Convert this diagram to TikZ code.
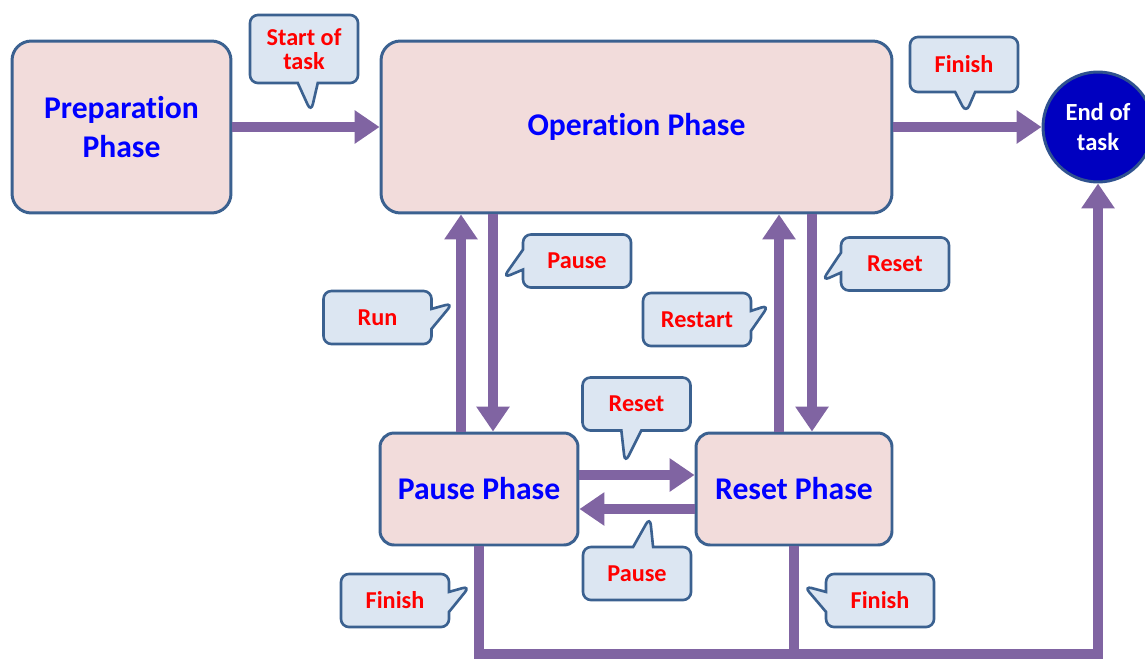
\documentclass[tikz,border=0pt]{standalone}
\usepackage{fontspec}
\setmainfont{Carlito}[Ligatures=NoCommon]
\usetikzlibrary{arrows.meta,shapes.callouts}

\definecolor{phasefill}{HTML}{F2DCDB}
\definecolor{phaseline}{HTML}{3B6190}
\definecolor{notefill}{HTML}{DCE6F2}
\definecolor{flowcol}{HTML}{8064A2}
\definecolor{endfill}{HTML}{0000C0}
\definecolor{endline}{HTML}{2F528F}

\tikzset{
  phase/.style={draw=phaseline, fill=phasefill, line width=1.7pt,
    rounded corners=11pt, text=blue, align=center,
    font=\bfseries\fontsize{18}{22}\selectfont},
  note/.style={rectangle callout, draw=phaseline, fill=notefill,
    line width=1.5pt, rounded corners=4.5pt, text=red, align=center,
    font=\bfseries\fontsize{13.8}{14}\selectfont,
    minimum width=2.16cm, minimum height=1.06cm, inner sep=2pt,
    callout pointer width=0.4cm},
  flow/.style={draw=flowcol, line width=5.7pt,
    -{Triangle[length=0.5cm,width=0.64cm]}},
  flowline/.style={draw=flowcol, line width=5.7pt}
}

\begin{document}
\begin{tikzpicture}[x=0.02cm,y=-0.02cm]
\useasboundingbox (0,0) rectangle (1145,659);

% Phases
\node[phase, minimum width=4.38cm, minimum height=3.44cm] (prep) at (121.5,127) {Preparation\\Phase};
\node[phase, minimum width=10.22cm, minimum height=3.44cm] (op) at (636.5,127) {Operation Phase};
\node[phase, rounded corners=8pt, minimum width=3.96cm, minimum height=2.24cm] (pause) at (479,489) {Pause Phase};
\node[phase, rounded corners=8pt, minimum width=3.92cm, minimum height=2.24cm] (reset) at (794,489) {Reset Phase};

% End of task
\node[circle, draw=endline, fill=endfill, line width=1.7pt, minimum size=2.2cm,
  inner sep=0pt, text=white, align=center,
  font=\bfseries\fontsize{14}{17}\selectfont] (taskend) at (1098,127) {End of\\task};

\coordinate (bottom) at (0,654);

% Arrows
\draw[flow] (prep.east) -- (op.west);
\draw[flow] (op.east) -- (taskend.west);
\draw[flow] ([xshift=-0.36cm]pause.north) -- ([xshift=-0.36cm]pause.north |- op.south);
\draw[flow] ([xshift=0.28cm]pause.north |- op.south) -- ([xshift=0.28cm]pause.north);
\draw[flow] ([xshift=-0.3cm]reset.north) -- ([xshift=-0.3cm]reset.north |- op.south);
\draw[flow] ([xshift=0.36cm]reset.north |- op.south) -- ([xshift=0.36cm]reset.north);
\draw[flow] ([yshift=0.28cm]pause.east) -- ([yshift=0.28cm]pause.east -| reset.west);
\draw[flow] ([yshift=-0.4cm]reset.west) -- ([yshift=-0.4cm]reset.west -| pause.east);
\draw[flowline] (reset.south) -- (reset.south |- bottom);
\draw[flow, line join=miter] (pause.south) |- (bottom -| taskend.south) -- (taskend.south);

% Callouts
\node[note, minimum height=1.36cm, callout absolute pointer={(311,112)}] (n1) at (304,49) {Start of\\task};
\node[note, minimum height=1.1cm, callout absolute pointer={(966,113)}] (n2) at (964,64.5) {Finish};
\node[note, callout absolute pointer={(503,278)}] (n3) at (577,261) {Pause};
\node[note, callout absolute pointer={(453,303)}] (n4) at (377.5,317.5) {Run};
\node[note, callout absolute pointer={(769,305)}] (n5) at (697,319.5) {Restart};
\node[note, callout absolute pointer={(822,281)}] (n6) at (895,264) {Reset};
\node[note, callout absolute pointer={(625,463)}] (n7) at (636.5,404) {Reset};
\node[note, callout absolute pointer={(650,517)}] (n8) at (637,573.5) {Pause};
\node[note, callout absolute pointer={(470,586)}] (n9) at (395,600.5) {Finish};
\node[note, callout absolute pointer={(804,586)}] (n10) at (880,600.5) {Finish};

\end{tikzpicture}
\end{document}
